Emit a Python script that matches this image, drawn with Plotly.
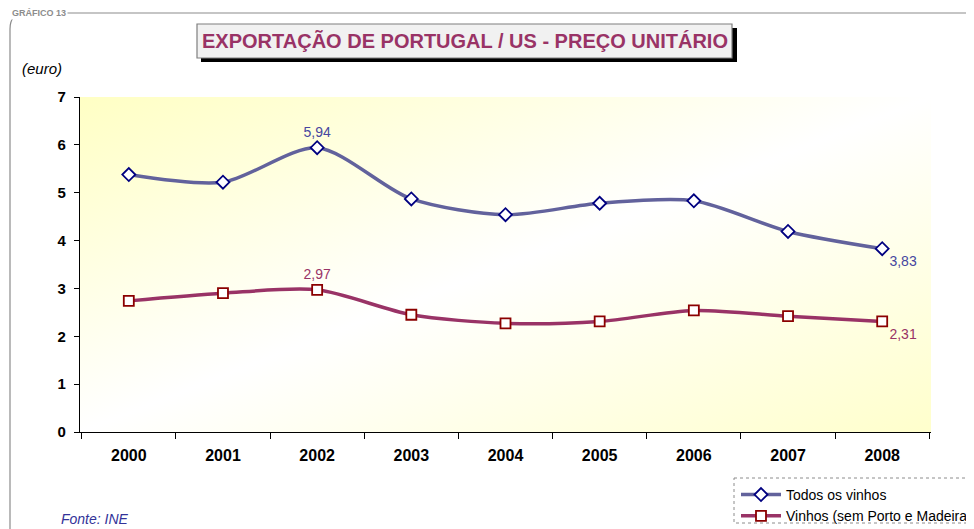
import plotly.graph_objects as go
import base64

years = ["2000", "2001", "2002", "2003", "2004", "2005", "2006", "2007", "2008"]
todos = [5.38, 5.22, 5.94, 4.87, 4.54, 4.78, 4.83, 4.19, 3.83]
sem_porto = [2.74, 2.90, 2.97, 2.45, 2.27, 2.31, 2.54, 2.42, 2.31]
labelled_years = ["2002", "2008"]
y_ticks = [0, 1, 2, 3, 4, 5, 6, 7]

# layout geometry (pixels, in page coordinates); page body adds an 8px offset
W, H = 974, 529
OFF = 8
L, R, T, B = 80, 931, 97, 432
pw, ph = R - L, B - T
FONT = "Arial, Liberation Sans, sans-serif"


def px(x):
    return (x - L) / pw


def py(y):
    return (B - y) / ph


def fmt(v):
    return f"{v:.2f}".replace(".", ",")


def labels(vals):
    return [fmt(v) if yr in labelled_years else "" for yr, v in zip(years, vals)]


fig = go.Figure()
fig.add_trace(go.Scatter(
    x=years, y=todos, name="Todos os vinhos",
    mode="lines+markers+text",
    line=dict(color="#62629C", width=3.5, shape="spline", smoothing=0.8),
    marker=dict(symbol="diamond", size=10, color="white",
                line=dict(color="#000080", width=1.8)),
    text=labels(todos),
    textposition=["top center"] * 8 + ["bottom right"],
    textfont=dict(family=FONT, size=14, color="#4646A0"),
))
fig.add_trace(go.Scatter(
    x=years, y=sem_porto, name="Vinhos (sem Porto e Madeira)",
    mode="lines+markers+text",
    line=dict(color="#993366", width=3.5, shape="spline", smoothing=0.8),
    marker=dict(symbol="square", size=10, color="white",
                line=dict(color="#8B0000", width=1.8)),
    text=labels(sem_porto),
    textposition=["top center"] * 8 + ["bottom right"],
    textfont=dict(family=FONT, size=14, color="#993366"),
))

svg = ('<svg xmlns="http://www.w3.org/2000/svg" width="851" height="335" '
       'viewBox="0 0 851 335" preserveAspectRatio="none">'
       '<defs><linearGradient id="g" x1="0" y1="0" x2="1" y2="1">'
       '<stop offset="0" stop-color="#FFFFC4"/>'
       '<stop offset="0.5" stop-color="#FFFFFF"/>'
       '<stop offset="1" stop-color="#FFFFCC"/>'
       '</linearGradient></defs>'
       '<rect x="0" y="0" width="851" height="335" fill="url(#g)"/></svg>')
src = "data:image/svg+xml;base64," + base64.b64encode(svg.encode()).decode()

shapes = []
# rounded frame
fx, fy, rr = 10, 13, 16
path = (f"M {px(fx)},{py(560)} L {px(fx)},{py(fy + rr)} "
        f"Q {px(fx)},{py(fy)} {px(fx + rr)},{py(fy)} L {px(990)},{py(fy)}")
shapes.append(dict(type="path", xref="paper", yref="paper", path=path,
                   line=dict(color="#8C8C8C", width=1.2), layer="below"))
# title box shadow and box
shapes.append(dict(type="rect", xref="paper", yref="paper",
                   x0=px(201), x1=px(737), y0=py(28), y1=py(62),
                   fillcolor="black", line=dict(width=0)))
shapes.append(dict(type="rect", xref="paper", yref="paper",
                   x0=px(197), x1=px(732), y0=py(24), y1=py(58),
                   fillcolor="#F1F1F1", line=dict(color="#7F7F7F", width=1.2)))
# legend dotted box
shapes.append(dict(type="rect", xref="paper", yref="paper",
                   x0=px(734), x1=px(990), y0=py(478), y1=py(523),
                   fillcolor="white", line=dict(color="#8C8C8C", width=1, dash="dot"),
                   layer="below"))

images = [
    dict(source=src, xref="paper", yref="paper", x=0, y=1, sizex=1, sizey=1,
         xanchor="left", yanchor="top", sizing="stretch", layer="below"),
]

annotations = [
    dict(text="<b>EXPORTAÇÃO DE PORTUGAL / US - PREÇO UNITÁRIO</b>", xref="paper", yref="paper",
         x=px(465), y=py(41), xanchor="center", yanchor="middle", showarrow=False,
         font=dict(family=FONT, size=20, color="#993366")),
    dict(text="<i>(euro)</i>", xref="paper", yref="paper", x=px(20), y=py(68),
         xanchor="left", yanchor="middle", showarrow=False,
         font=dict(family=FONT, size=15, color="black")),
    dict(text="<i>Fonte: INE</i>", xref="paper", yref="paper", x=px(59), y=py(519),
         xanchor="left", yanchor="middle", showarrow=False,
         font=dict(family=FONT, size=14, color="#333399")),
    dict(text="<b>GRÁFICO 13</b>", xref="paper", yref="paper", x=px(10), y=py(13),
         xanchor="left", yanchor="middle", showarrow=False, bgcolor="white",
         font=dict(family=FONT, size=9, color="#8C8C8C")),
]

fig.update_layout(
    width=W, height=H,
    margin=dict(l=L - OFF, r=W - (R - OFF), t=T - OFF, b=H - (B - OFF), pad=0,
                autoexpand=False),
    paper_bgcolor="white", plot_bgcolor="rgba(0,0,0,0)",
    font=dict(family=FONT, color="black"),
    showlegend=True,
    legend=dict(x=px(736), y=py(479), xanchor="left", yanchor="top",
                bgcolor="rgba(0,0,0,0)", borderwidth=0,
                font=dict(size=14, color="black", family=FONT), itemwidth=40,
                tracegroupgap=0),
    shapes=shapes, images=images, annotations=annotations,
)
fig.update_xaxes(type="category", tickson="boundaries", ticks="outside", ticklen=6,
                 tickcolor="black", showline=True, linecolor="black", linewidth=1.2,
                 showgrid=False, zeroline=False, automargin=False,
                 tickfont=dict(size=16, color="black", family=FONT, weight="bold"),
                 ticklabelstandoff=9)
fig.update_yaxes(range=[0, 7], tickvals=y_ticks, ticks="outside", ticklen=5,
                 tickcolor="black", showline=True, linecolor="black", linewidth=1.2,
                 showgrid=False, zeroline=False, automargin=False,
                 tickfont=dict(size=15, color="black", family=FONT, weight="bold"),
                 ticklabelstandoff=5)

fig.write_html("out.html")
